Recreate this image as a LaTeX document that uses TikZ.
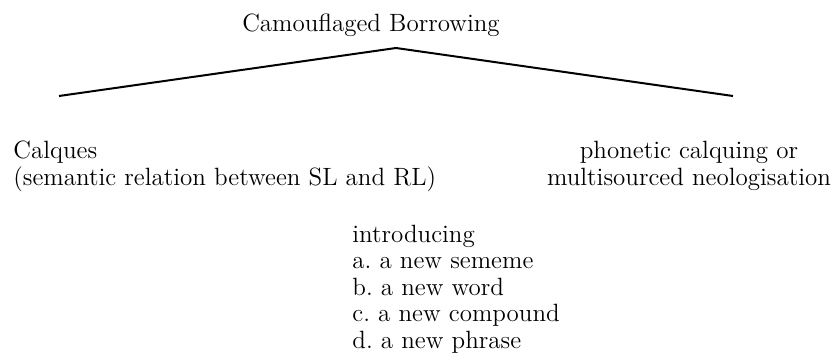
\documentclass[tikz,border=0pt]{standalone}
\usepackage{tikz}
\frenchspacing

\begin{document}
\begin{tikzpicture}[x=0.5pt,y=-0.5pt]

\tikzset{term/.style = {inner sep=0pt,font=\fontsize{12.5}{13.25}\selectfont}}
\tikzset{branch/.style = {line width=1pt}}
\useasboundingbox (0,0) rectangle (834,359);
%terms (base = last line)
\node[term, anchor=base] (root) at (371,31) {Camouflaged Borrowing};
\node[term, anchor=base west, align=left] (calques) at (13,185) {Calques\\(semantic relation between SL and RL)};
\node[term, anchor=base, align=center] (phonetic) at (689,185) {phonetic calquing or\\multisourced neologisation};
\node[term, anchor=base west, align=left] (types) at (352,348) {introducing\\a. a new sememe\\b. a new word\\c. a new compound\\d. a new phrase};
%branches
\coordinate (apex) at (396,48);
\coordinate (leftend) at (59,96);
\coordinate (rightend) at (733,96);
\draw[branch] (apex) -- (leftend);
\draw[branch] (apex) -- (rightend);

\end{tikzpicture}
\end{document}
